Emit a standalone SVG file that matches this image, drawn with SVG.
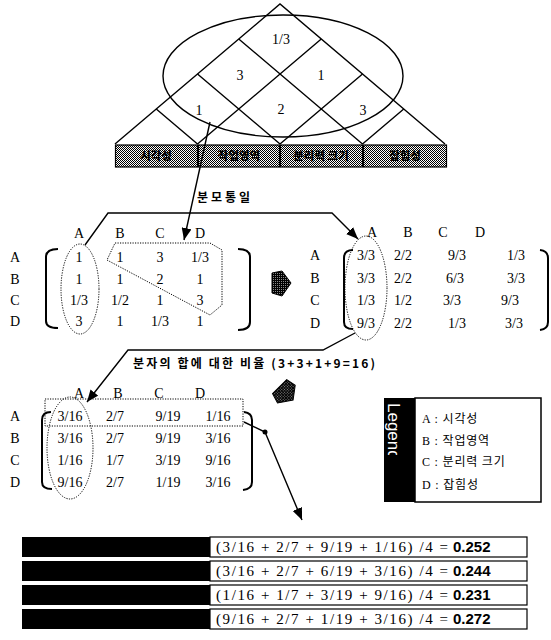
<svg xmlns="http://www.w3.org/2000/svg" width="551" height="640" viewBox="0 0 551 640">
<style>
.ln{stroke:#000;stroke-width:1.4;fill:none}
.dt{stroke:#000;stroke-width:1;stroke-dasharray:1.2 1.3;fill:none}
.br{stroke:#000;stroke-width:2;fill:none}
.m{font-family:"Liberation Serif",serif;font-size:14px;text-anchor:middle;fill:#000}
.k{font-family:"Noto Sans CJK KR",sans-serif;font-size:12px;font-weight:bold;fill:#000}
.bar{fill:url(#chk);stroke:#000;stroke-width:1.2}
.bt{font-family:"Noto Sans CJK KR",sans-serif;font-size:11.5px;font-weight:900;fill:#000;text-anchor:middle}
.lg{font-family:"Liberation Serif","Noto Sans CJK KR",serif;font-size:12px;fill:#000;letter-spacing:0.8px}
.f{font-family:"Liberation Serif",serif;font-size:15px;fill:#000}
.fb{font-family:"Liberation Sans",sans-serif;font-size:15px;font-weight:bold;fill:#000}
.blk{fill:#000}
</style>
<defs>
<pattern id="chk" width="2" height="2" patternUnits="userSpaceOnUse"><rect width="2" height="2" fill="#fff"/><rect width="1" height="1" fill="#000"/><rect x="1" y="1" width="1" height="1" fill="#000"/></pattern>
<pattern id="drk" width="2" height="2" patternUnits="userSpaceOnUse"><rect width="2" height="2" fill="#000"/><rect width="1" height="1" fill="#888"/></pattern>
<marker id="ah" markerUnits="userSpaceOnUse" markerWidth="12" markerHeight="10" refX="12" refY="5" orient="auto"><path d="M0,0 L12,5 L0,10 Z" fill="#000"/></marker>
<clipPath id="lgclip"><rect x="380" y="398" width="35" height="57"/></clipPath>
<path id="barrow" d="M-9,-10 L1,-12 L10,0 L1,13 L-9,10 Z"/>
</defs>

<g id="hierarchy">
<ellipse cx="283" cy="76" rx="120" ry="61" class="ln"/>
<path class="ln" d="M115,144 L280,4 L445,144"/>
<path class="ln" d="M238.75,39 L362.5,144 M197.5,74 L280,144 M156.25,109 L197.5,144 M321.25,39 L197.5,144 M362.5,74 L280,144 M403.75,109 L362.5,144"/>
<text class="m" x="281" y="44">1/3</text>
<text class="m" x="240" y="80">3</text>
<text class="m" x="321" y="80">1</text>
<text class="m" x="199" y="115">1</text>
<text class="m" x="281" y="114">2</text>
<text class="m" x="363" y="115">3</text>
</g>

<g id="criteria-bar">
<rect class="bar" x="115.5" y="145" width="82" height="22"/>
<rect class="bar" x="198.5" y="145" width="81" height="22"/>
<rect class="bar" x="280.5" y="145" width="82" height="22"/>
<rect class="bar" x="363.5" y="145" width="83" height="22"/>
<text class="bt" x="156" y="160">시각성</text>
<text class="bt" x="239" y="160">작업영역</text>
<text class="bt" x="321" y="160">분리력 크기</text>
<text class="bt" x="405" y="160">잡힘성</text>
</g>

<g id="matrix1">
<text class="m" x="79" y="238">A</text><text class="m" x="120" y="238">B</text><text class="m" x="160" y="238">C</text><text class="m" x="200" y="238">D</text>
<text class="m" x="15" y="262">A</text><text class="m" x="15" y="284">B</text><text class="m" x="15" y="305">C</text><text class="m" x="15" y="326">D</text>
<text class="m" x="79" y="262">1</text><text class="m" x="120" y="262">1</text><text class="m" x="160" y="262">3</text><text class="m" x="200" y="262">1/3</text>
<text class="m" x="79" y="284">1</text><text class="m" x="120" y="284">1</text><text class="m" x="160" y="284">2</text><text class="m" x="200" y="284">1</text>
<text class="m" x="79" y="305">1/3</text><text class="m" x="120" y="305">1/2</text><text class="m" x="160" y="305">1</text><text class="m" x="200" y="305">3</text>
<text class="m" x="79" y="326">3</text><text class="m" x="120" y="326">1</text><text class="m" x="160" y="326">1/3</text><text class="m" x="200" y="326">1</text>
<path class="br" d="M58,249 Q46,249 46,257 L46,321 Q46,328 58,328"/>
<path class="br" d="M238,249 Q250,249 250,257 L250,322 Q250,330 238,330"/>
<ellipse class="dt" cx="80" cy="289" rx="19" ry="45"/>
<path class="dt" d="M115,243 L210,243 L222,250 L222,305 L210,315 L107,260 Z"/>
</g>

<g id="matrix2">
<text class="m" x="372" y="237">A</text><text class="m" x="408" y="237">B</text><text class="m" x="443" y="237">C</text><text class="m" x="480" y="237">D</text>
<text class="m" x="315" y="260">A</text><text class="m" x="315" y="283">B</text><text class="m" x="315" y="305">C</text><text class="m" x="315" y="328">D</text>
<text class="m" x="366" y="260">3/3</text><text class="m" x="403" y="260">2/2</text><text class="m" x="457" y="260">9/3</text><text class="m" x="516" y="260">1/3</text>
<text class="m" x="366" y="283">3/3</text><text class="m" x="403" y="283">2/2</text><text class="m" x="455" y="283">6/3</text><text class="m" x="516" y="283">3/3</text>
<text class="m" x="366" y="305">1/3</text><text class="m" x="403" y="305">1/2</text><text class="m" x="452" y="305">3/3</text><text class="m" x="510" y="305">9/3</text>
<text class="m" x="366" y="328">9/3</text><text class="m" x="403" y="328">2/2</text><text class="m" x="457" y="328">1/3</text><text class="m" x="514" y="328">3/3</text>
<path class="br" d="M353,250 Q344,250 344,258 L344,322 Q344,329 353,329"/>
<path class="br" d="M540,250 Q548,251 548,258 L548,322 Q548,329 540,330"/>
<ellipse class="dt" cx="366" cy="288" rx="21" ry="52"/>
</g>

<g id="matrix3">
<text class="m" x="79" y="398">A</text><text class="m" x="118" y="398">B</text><text class="m" x="159" y="398">C</text><text class="m" x="200" y="398">D</text>
<text class="m" x="15" y="421">A</text><text class="m" x="15" y="443">B</text><text class="m" x="15" y="465">C</text><text class="m" x="15" y="487">D</text>
<text class="m" x="70" y="421">3/16</text><text class="m" x="115" y="421">2/7</text><text class="m" x="168" y="421">9/19</text><text class="m" x="218" y="421">1/16</text>
<text class="m" x="70" y="443">3/16</text><text class="m" x="115" y="443">2/7</text><text class="m" x="168" y="443">9/19</text><text class="m" x="218" y="443">3/16</text>
<text class="m" x="70" y="465">1/16</text><text class="m" x="115" y="465">1/7</text><text class="m" x="168" y="465">3/19</text><text class="m" x="218" y="465">9/16</text>
<text class="m" x="70" y="487">9/16</text><text class="m" x="115" y="487">2/7</text><text class="m" x="168" y="487">1/19</text><text class="m" x="218" y="487">3/16</text>
<path class="br" d="M51,412 Q42,412 42,420 L42,482 Q42,489 52,489"/>
<path class="br" d="M244,412 Q252,413 252,420 L252,482 Q252,489 243,490"/>
<ellipse class="dt" cx="70" cy="448" rx="23" ry="51"/>
<rect class="dt" x="45" y="399" width="198" height="27"/>
</g>

<g id="legend">
<rect x="384" y="398" width="31" height="104" fill="#000"/>
<rect x="415" y="398" width="126" height="104" fill="#fff" stroke="#000" stroke-width="1.5"/>
<g clip-path="url(#lgclip)"><text transform="translate(388,403) rotate(90)" font-family="Liberation Sans,sans-serif" font-size="17" fill="#fff">Legend</text></g>
<text class="lg" x="422" y="423">A : 시각성</text>
<text class="lg" x="422" y="445">B : 작업영역</text>
<text class="lg" x="422" y="466">C : 분리력 크기</text>
<text class="lg" x="422" y="489">D : 잡힘성</text>
</g>

<g id="results">
<rect class="blk" x="22" y="537" width="188" height="20"/>
<rect x="210" y="537" width="317" height="20" fill="#fff" stroke="#000" stroke-width="1.2"/>
<rect class="blk" x="22" y="561" width="188" height="20"/>
<rect x="210" y="561" width="317" height="20" fill="#fff" stroke="#000" stroke-width="1.2"/>
<rect class="blk" x="22" y="585" width="188" height="20"/>
<rect x="210" y="585" width="317" height="20" fill="#fff" stroke="#000" stroke-width="1.2"/>
<rect class="blk" x="22" y="609" width="188" height="20"/>
<rect x="210" y="609" width="317" height="20" fill="#fff" stroke="#000" stroke-width="1.2"/>
<text class="f" x="216" y="552" textLength="232" lengthAdjust="spacing">(3/16 + 2/7 + 9/19 + 1/16) /4 =</text>
<text class="fb" x="453" y="552">0.252</text>
<text class="f" x="216" y="576" textLength="232" lengthAdjust="spacing">(3/16 + 2/7 + 6/19 + 3/16) /4 =</text>
<text class="fb" x="453" y="576">0.244</text>
<text class="f" x="216" y="600" textLength="232" lengthAdjust="spacing">(1/16 + 1/7 + 3/19 + 9/16) /4 =</text>
<text class="fb" x="453" y="600">0.231</text>
<text class="f" x="216" y="624" textLength="232" lengthAdjust="spacing">(9/16 + 2/7 + 1/19 + 3/16) /4 =</text>
<text class="fb" x="453" y="624">0.272</text>
</g>

<g id="connectors">
<path class="ln" d="M210,122 L184,240" marker-end="url(#ah)"/>
<text class="k" x="197" y="202" textLength="53" lengthAdjust="spacing">분모통일</text>
<path class="ln" d="M85,245 L108,213 L332,213 L358,239" marker-end="url(#ah)"/>
<path class="ln" d="M355,333 L323,350 L128,350 L87,402" marker-end="url(#ah)"/>
<text class="k" x="133" y="368" textLength="242" lengthAdjust="spacing">분자의 합에 대한 비율 (3+3+1+9=16)</text>
<path class="ln" d="M244,422 L265,432 L302,520" marker-end="url(#ah)"/>
<circle cx="265" cy="432" r="2.5" fill="#000"/>
<use href="#barrow" transform="translate(281,283)" fill="url(#drk)" stroke="#000" stroke-width="1"/>
<use href="#barrow" transform="translate(286,393) rotate(45)" fill="url(#drk)" stroke="#000" stroke-width="1"/>
</g>
</svg>
